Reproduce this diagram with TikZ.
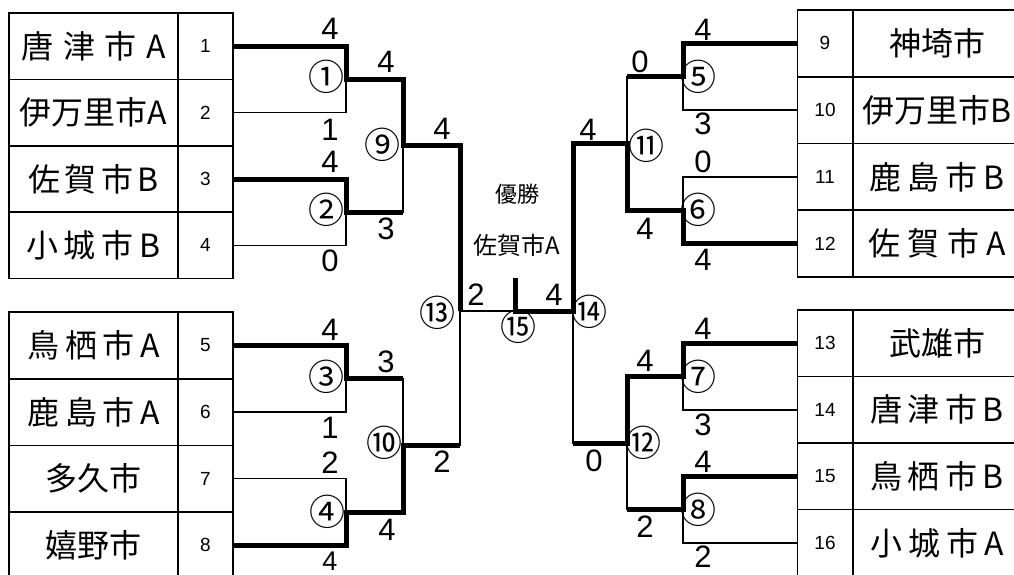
\documentclass[tikz,border=0pt]{standalone}
\usepackage{fontspec}
\newfontfamily\jp{Noto Sans CJK JP}
\newfontfamily\scorefont{Liberation Sans}
\newfontfamily\numfont{Liberation Sans}
\newcommand\spreadname[2]{\hbox to #1{#2}}
\begin{document}
\begin{tikzpicture}[x=1pt,y=-1pt,
  cell/.style={draw, line width=1.5pt, inner sep=0pt, minimum height=66.5pt},
  namecell/.style={cell, minimum width=169pt, font=\jp\fontsize{32}{32}\selectfont},
  rnamecell/.style={cell, minimum width=168pt, font=\jp\fontsize{32}{32}\selectfont},
  numcell/.style={cell, minimum width=55pt, font=\numfont\fontsize{19}{19}\selectfont},
  thinl/.style={line width=1.5pt},
  thickl/.style={line width=5pt, line join=miter},
  score/.style={font=\scorefont\fontsize{31}{31}\selectfont, inner sep=0pt},
  circ/.style={font=\jp\fontsize{36}{36}\selectfont, inner sep=0pt},
  ctext/.style={font=\jp\fontsize{22}{22}\selectfont, inner sep=0pt}]
\useasboundingbox (0,0) rectangle (1014,574);

% ---- left tables
\node[namecell] (n1) at (93.5,46.2) {\spreadname{144pt}{唐\hfil 津\hfil 市\hfil A}};
\node[numcell]  (c1) at (205.5,46.2) {1};
\node[namecell] (n2) at (93.5,112.6) {伊万里市A};
\node[numcell]  (c2) at (205.5,112.6) {2};
\node[namecell] (n3) at (93.5,179.0) {\spreadname{130pt}{佐\hfil 賀\hfil 市\hfil B}};
\node[numcell]  (c3) at (205.5,179.0) {3};
\node[namecell] (n4) at (93.5,245.4) {\spreadname{135pt}{小\hfil 城\hfil 市\hfil B}};
\node[numcell]  (c4) at (205.5,245.4) {4};

\node[namecell] (n5) at (93.5,345.3) {\spreadname{132pt}{鳥\hfil 栖\hfil 市\hfil A}};
\node[numcell]  (c5) at (205.5,345.3) {5};
\node[namecell] (n6) at (93.5,412.0) {\spreadname{132pt}{鹿\hfil 島\hfil 市\hfil A}};
\node[numcell]  (c6) at (205.5,412.0) {6};
\node[namecell] (n7) at (93.5,478.7) {多久市};
\node[numcell]  (c7) at (205.5,478.7) {7};
\node[namecell] (n8) at (93.5,545.4) {嬉野市};
\node[numcell]  (c8) at (205.5,545.4) {8};

% ---- right tables
\node[numcell]   (c9)  at (825,43.4) {9};
\node[rnamecell] (n9)  at (937,43.4) {神埼市};
\node[numcell]   (c10) at (825,110.1) {10};
\node[rnamecell] (n10) at (937,110.1) {伊万里市B};
\node[numcell]   (c11) at (825,176.9) {11};
\node[rnamecell] (n11) at (937,176.9) {\spreadname{136pt}{鹿\hfil 島\hfil 市\hfil B}};
\node[numcell]   (c12) at (825,243.6) {12};
\node[rnamecell] (n12) at (937,243.6) {\spreadname{138pt}{佐\hfil 賀\hfil 市\hfil A}};

\node[numcell]   (c13) at (825,343.3) {13};
\node[rnamecell] (n13) at (937,343.3) {武雄市};
\node[numcell]   (c14) at (825,409.8) {14};
\node[rnamecell] (n14) at (937,409.8) {\spreadname{133pt}{唐\hfil 津\hfil 市\hfil B}};
\node[numcell]   (c15) at (825,476.3) {15};
\node[rnamecell] (n15) at (937,476.3) {\spreadname{133pt}{鳥\hfil 栖\hfil 市\hfil B}};
\node[numcell]   (c16) at (825,542.8) {16};
\node[rnamecell] (n16) at (937,542.8) {\spreadname{134pt}{小\hfil 城\hfil 市\hfil A}};

% ---- junction coordinates
\coordinate (m1) at (346,79.4);
\coordinate (m2) at (346,212.2);
\coordinate (m3) at (346,378.7);
\coordinate (m4) at (346,512.1);
\coordinate (m9) at (403,145.8);
\coordinate (m10) at (403,445.4);
\coordinate (m13) at (460,311);
\coordinate (m15) at (515,311);
\coordinate (w) at (515,278);
\coordinate (m14) at (573,311);
\coordinate (m11) at (627,143.5);
\coordinate (m12) at (627,443);
\coordinate (m5) at (683,76.8);
\coordinate (m6) at (683,210.2);
\coordinate (m7) at (683,376.5);
\coordinate (m8) at (683,509.5);

% ---- thin bracket lines
\draw[thinl] (c1.east) -| (m1);  \draw[thinl] (c2.east) -| (m1);
\draw[thinl] (c3.east) -| (m2);  \draw[thinl] (c4.east) -| (m2);
\draw[thinl] (c5.east) -| (m3);  \draw[thinl] (c6.east) -| (m3);
\draw[thinl] (c7.east) -| (m4);  \draw[thinl] (c8.east) -| (m4);
\draw[thinl] (m1) -| (m9);  \draw[thinl] (m2) -| (m9);
\draw[thinl] (m3) -| (m10); \draw[thinl] (m4) -| (m10);
\draw[thinl] (m9) -| (m13); \draw[thinl] (m10) -| (m13);
\draw[thinl] (m13) -- (m15);
\draw[thinl] (c9.west) -| (m5);  \draw[thinl] (c10.west) -| (m5);
\draw[thinl] (c11.west) -| (m6); \draw[thinl] (c12.west) -| (m6);
\draw[thinl] (c13.west) -| (m7); \draw[thinl] (c14.west) -| (m7);
\draw[thinl] (c15.west) -| (m8); \draw[thinl] (c16.west) -| (m8);
\draw[thinl] (m5) -| (m11); \draw[thinl] (m6) -| (m11);
\draw[thinl] (m7) -| (m12); \draw[thinl] (m8) -| (m12);
\draw[thinl] (m11) -| (m14); \draw[thinl] (m12) -| (m14);

% ---- thick winner paths
\draw[thickl] (c1.east) -| (m1) -| (m9) -| (m13);
\draw[thickl] (c3.east) -| (m2) -- (m2 -| m9);
\draw[thickl] (c5.east) -| (m3) -- (m3 -| m10);
\draw[thickl] (c8.east) -| (m4) -| (m10) -- (m10 -| m13);
\draw[thickl] (c12.west) -| (m6) -| (m11) -| (m14) -- (m15) -- (w);
\draw[thickl] (c9.west) -| (m5) -- (m5 -| m11);
\draw[thickl] (c13.west) -| (m7) -| (m12) -- (m12 -| m14);
\draw[thickl] (c15.west) -| (m8) -- (m8 -| m12);

% ---- match numbers
\node[circ] (k1) at (326,77) {①};
\node[circ] (k2) at (326,210) {②};
\node[circ] (k3) at (326,377) {③};
\node[circ] (k4) at (327,512) {④};
\node[circ] (k9) at (382,145) {⑨};
\node[circ] (k10) at (384,443) {⑩};
\node[circ] (k13) at (437,313) {⑬};
\node[circ] (k15) at (518,327) {⑮};
\node[circ] (k14) at (589,312) {⑭};
\node[circ] (k11) at (646,146) {⑪};
\node[circ] (k12) at (643,443) {⑫};
\node[circ] (k5) at (698,77) {⑤};
\node[circ] (k6) at (698,210) {⑥};
\node[circ] (k7) at (698,377) {⑦};
\node[circ] (k8) at (698,510) {⑧};

% ---- scores
\node[score] (s1) at (330,29) {4};
\node[score] (s2) at (330,130) {1};
\node[score] (s3) at (330,162) {4};
\node[score] (s4) at (330,261) {0};
\node[score] (s5) at (330,330) {4};
\node[score] (s6) at (330,428) {1};
\node[score] (s7) at (330,463) {2};
\node[score, font=\scorefont\fontsize{27}{27}\selectfont] (s8) at (330,561) {4};
\node[score] (s9) at (386,62) {4};
\node[score] (s10) at (386,229) {3};
\node[score] (s11) at (386,362) {3};
\node[score] (s12) at (387,530) {4};
\node[score] (s13) at (442,129) {4};
\node[score] (s14) at (442,462) {2};
\node[score] (s15) at (476,295) {2};
\node[score] (s16) at (554,295) {4};
\node[score] (s17) at (588,130) {4};
\node[score] (s18) at (594,461) {0};
\node[score] (s19) at (640,62) {0};
\node[score] (s20) at (645,229) {4};
\node[score] (s21) at (645,361) {4};
\node[score] (s22) at (645,527) {2};
\node[score] (s23) at (703,30) {4};
\node[score] (s24) at (703,124) {3};
\node[score] (s25) at (703,162) {0};
\node[score] (s26) at (703,260) {4};
\node[score] (s27) at (703,329) {4};
\node[score] (s28) at (703,425) {3};
\node[score] (s29) at (703,462) {4};
\node[score] (s30) at (703,557) {2};

% ---- champion
\node[ctext] (champ) at (517,194) {優勝};
\node[ctext, font=\jp\fontsize{24}{24}\selectfont] (champname) at (517,245) {佐賀市A};
\end{tikzpicture}
\end{document}
